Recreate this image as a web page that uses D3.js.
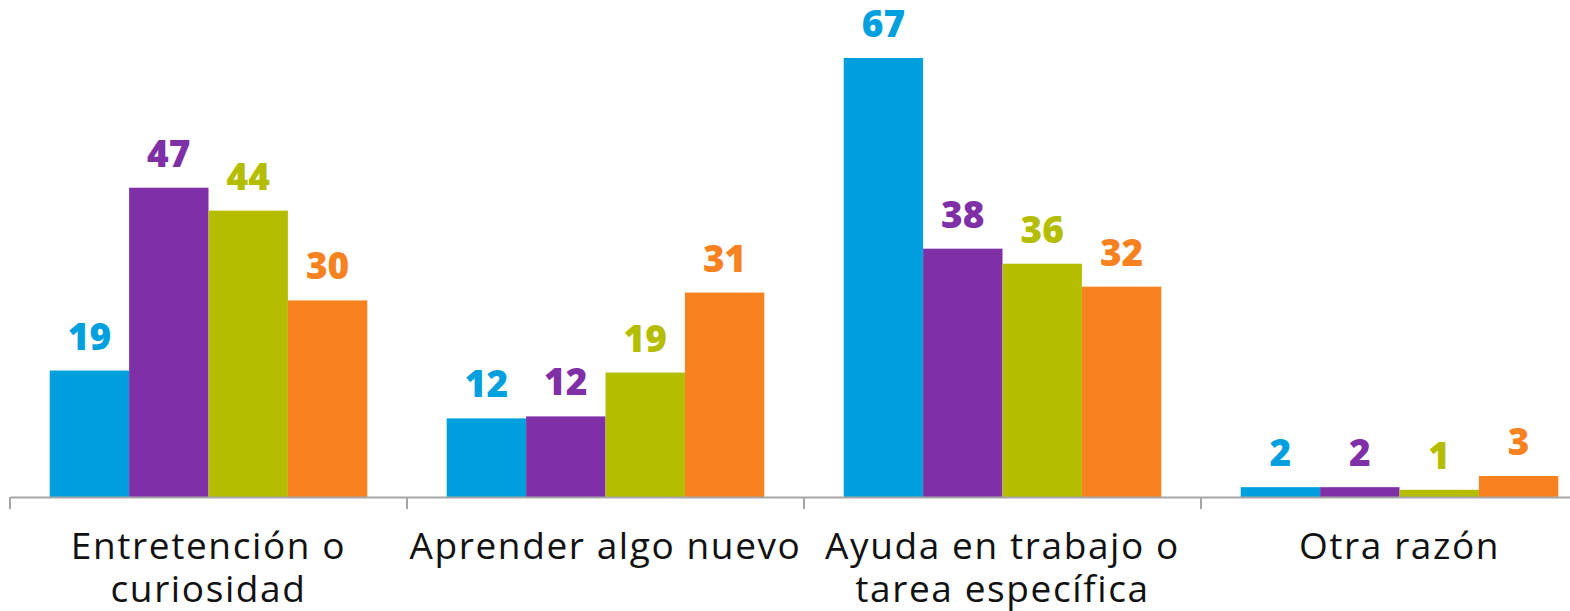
<!DOCTYPE html>
<html>
<head>
<meta charset="utf-8">
<script src="https://cdn.jsdelivr.net/npm/d3@7"></script>
<style>
    body { margin: 0; background: #fff; }
    svg { display: block; }
    .cat-label { font-family: 'Open Sans', sans-serif; font-size: 37px; letter-spacing: 1.6px; fill: #111; }
    .val-label { font-family: 'Open Sans', sans-serif; font-size: 37px; font-weight: 800; }
</style>
</head>
<body>
<div id="chart"></div>
<script>
// categories (x axis groups)
const categories = ['Entretención o curiosidad', 'Aprender algo nuevo', 'Ayuda en trabajo o tarea específica', 'Otra razón'];
const tickLines = [['Entretención o', 'curiosidad'], ['Aprender algo nuevo'], ['Ayuda en trabajo o', 'tarea específica'], ['Otra razón']];

// series, one value per category
const series = ['s1', 's2', 's3', 's4'];
const s1 = [19.3, 12.0, 67.0, 1.5];
const s2 = [47.2, 12.3, 37.9, 1.5];
const s3 = [43.7, 19.0, 35.6, 1.1];
const s4 = [30.0, 31.2, 32.1, 3.2];
const colors = ['#00a0df', '#7f30a6', '#b5bd00', '#f7821f'];

const width = 1570;
const height = 611;

let svg = d3.select('#chart')
    .append('svg')
    .attr('width', width)
    .attr('height', height);

// table built from the arrays
let seriesValues = [s1, s2, s3, s4];
let data = categories.map((c, i) => ({
    category: c,
    values: series.map((s, j) => ({ key: s, value: seriesValues[j][i] }))
}));

// scales
let x0 = d3.scaleBand().domain(categories).range([10, 10 + 4 * 397]).padding(0);
let x1 = d3.scaleBand().domain(series).range([0, x0.bandwidth()]).paddingInner(0).paddingOuter(0.5);
let y = d3.scaleLinear().domain([0, 67]).range([497, 58]);
let color = d3.scaleOrdinal().domain(series).range(colors);

// bars
let groups = svg.selectAll('.group')
    .data(data)
    .enter()
    .append('g')
    .attr('class', 'group')
    .attr('transform', d => `translate(${x0(d.category)},0)`);

groups.selectAll('rect')
    .data(d => d.values)
    .enter()
    .append('rect')
    .attr('x', d => x1(d.key))
    .attr('y', d => y(d.value))
    .attr('width', x1.bandwidth())
    .attr('height', d => y(0) - y(d.value))
    .attr('fill', d => color(d.key));

groups.selectAll('.val-label')
    .data(d => d.values)
    .enter()
    .append('text')
    .attr('class', 'val-label')
    .attr('x', d => x1(d.key) + x1.bandwidth() / 2)
    .attr('y', d => y(d.value) - 21)
    .attr('text-anchor', 'middle')
    .attr('fill', d => color(d.key))
    .text(d => d3.format('.0f')(d.value));

// axis: domain line + ticks on group boundaries
let axis = d3.axisBottom(x0).tickSize(0).tickFormat('');
let gx = svg.append('g')
    .attr('transform', `translate(0,${y(0)})`)
    .call(axis);
gx.select('.domain').attr('stroke', '#a6a6a6').attr('stroke-width', 2);

gx.selectAll('.bound')
    .data(categories)
    .enter()
    .append('line')
    .attr('class', 'bound')
    .attr('x1', d => x0(d))
    .attr('x2', d => x0(d))
    .attr('y1', 0)
    .attr('y2', 12)
    .attr('stroke', '#a6a6a6')
    .attr('stroke-width', 2);

// category labels
let catText = svg.selectAll('.cat-label')
    .data(categories)
    .enter()
    .append('text')
    .attr('class', 'cat-label')
    .attr('text-anchor', 'middle')
    .attr('x', d => x0(d) + x0.bandwidth() / 2)
    .attr('y', 559);

catText.selectAll('tspan')
    .data((d, i) => tickLines[i])
    .enter()
    .append('tspan')
    .attr('x', function () { return d3.select(this.parentNode).attr('x'); })
    .attr('dy', (d, i) => i === 0 ? 0 : 43)
    .text(d => d);
</script>
</body>
</html>
